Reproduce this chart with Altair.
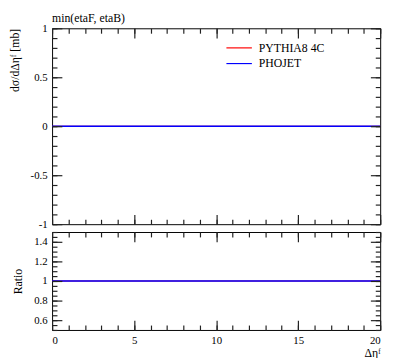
import altair as alt
import pandas as pd

# ---- data ----
x_edges = [0, 20]
pythia_vals = [0, 0]
phojet_vals = [0, 0]
ratio_pythia = [1, 1]
ratio_phojet = [1, 1]
series_names = ["PYTHIA8 4C", "PHOJET"]
series_colors = ["#ff0000", "#0000ff"]
title_text = "min(etaF, etaB)"
main_y_labels = [-1, -0.5, 0, 0.5, 1]
ratio_y_labels = [0.6, 0.8, 1, 1.2, 1.4]
x_labels = [0, 5, 10, 15, 20]
x_minor = list(range(0, 21))
main_y_minor = [round(-1 + 0.1 * i, 2) for i in range(21)]
ratio_y_minor = [round(0.5 + 0.05 * i, 2) for i in range(21)]

W, H1, H2 = 335, 200, 100
FONT = "Liberation Serif"
MAJ, MIN = 10, 5
label_expr = "'' + datum.value"

xs = alt.Scale(domain=[0, 20], nice=False, zero=False)


def ax(orient, values, size, labels=False, title=None, **kw):
    return alt.Axis(orient=orient, values=values, offset=-size, tickSize=size,
                    tickColor="#222222", tickWidth=1.2, labels=labels, labelExpr=label_expr,
                    domain=False, grid=False, title=title, zindex=1, **kw)


def panel(vals_list, ydom, ymaj, ymin, H, ytitle, ytitle_kw, x_labeled, extra_layers):
    ys = alt.Scale(domain=ydom, nice=False, zero=False)
    if x_labeled:
        xb = ax("bottom", x_labels, MAJ, labels=True, title="Δηᶠ", titleAnchor="end",
                labelPadding=5, titlePadding=2)
    else:
        xb = ax("bottom", x_labels, MAJ)
    specs = [
        (xb, ax("left", ymaj, MAJ, labels=True, title=ytitle, labelPadding=5, **ytitle_kw)),
        (ax("bottom", x_minor, MIN), ax("left", ymin, MIN)),
        (ax("top", x_labels, MAJ), ax("right", ymaj, MAJ)),
        (ax("top", x_minor, MIN), ax("right", ymin, MIN)),
    ]
    colors = [series_colors[0], series_colors[1], series_colors[0], series_colors[0]]
    widths = [1.2, 1.6, 1.2, 1.2]
    opac = [1, 1, 0, 0]
    layers = []
    for i, (xa, ya) in enumerate(specs):
        vals = vals_list[0] if i != 1 else vals_list[1]
        df = pd.DataFrame({"x": x_edges, "y": vals})
        layers.append(alt.Chart(df).mark_line(color=colors[i], strokeWidth=widths[i],
                                              opacity=opac[i]).encode(
            x=alt.X("x:Q", scale=xs, axis=xa), y=alt.Y("y:Q", scale=ys, axis=ya)))
    layers += extra_layers
    return alt.layer(*layers).resolve_axis(x="independent", y="independent").properties(
        width=W, height=H)


# legend (manual) and title text for the main panel
extra = []
for i, (name, col) in enumerate(zip(series_names, series_colors)):
    ldf = pd.DataFrame({"name": [name]})
    yy = 20 + 16 * i
    extra.append(alt.Chart(ldf).mark_rule(color=col, strokeWidth=1.2).encode(
        x=alt.value(178), x2=alt.value(204), y=alt.value(yy)))
    extra.append(alt.Chart(ldf).mark_text(align="left", baseline="middle", font=FONT,
                                          fontSize=12, color="black").encode(
        x=alt.value(211), y=alt.value(yy), text="name:N"))
tdf = pd.DataFrame({"t": [title_text]})
extra.append(alt.Chart(tdf).mark_text(align="left", baseline="top", font=FONT,
                                      fontSize=12, color="black").encode(
    x=alt.value(0), y=alt.value(-15), text="t:N"))

main = panel([pythia_vals, phojet_vals], [-1, 1], main_y_labels, main_y_minor, H1,
             "dσ/dΔηᶠ [mb]", {"titleAnchor": "end", "titlePadding": 9}, False, extra)
ratio = panel([ratio_pythia, ratio_phojet], [0.5, 1.5], ratio_y_labels, ratio_y_minor, H2,
              "Ratio", {"titlePadding": 9}, True, [])

chart = alt.vconcat(main, ratio, spacing=0).properties(
    padding={"left": 0, "top": 0, "right": 5, "bottom": 0},
    background="white",
).configure_view(
    stroke="black", strokeWidth=1
).configure_axis(
    labelFont=FONT, titleFont=FONT, labelFontSize=11, titleFontSize=12,
    titleFontWeight="normal", labelColor="black", titleColor="black"
)

chart.save("out.html", embed_options={"renderer": "svg", "actions": False})
